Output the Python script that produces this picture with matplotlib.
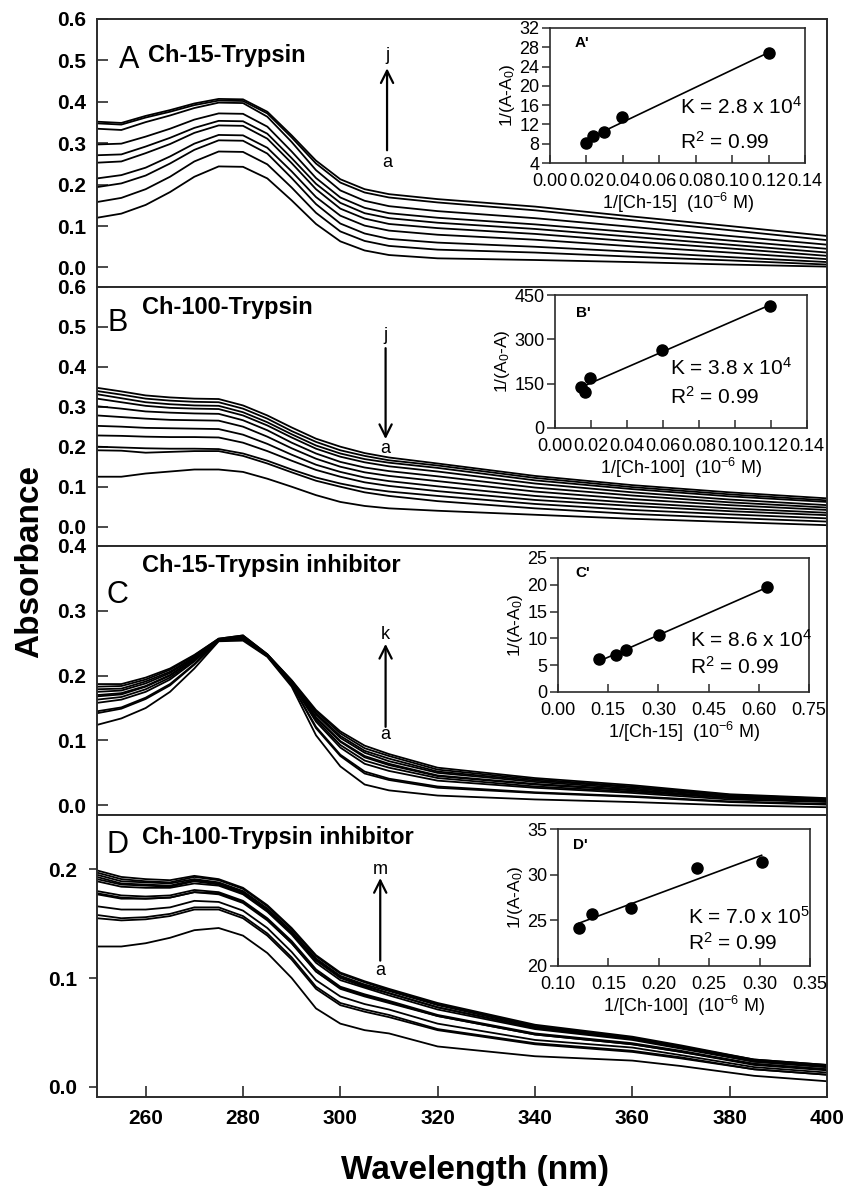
import numpy as np
import matplotlib
matplotlib.use("Agg")
import matplotlib.pyplot as plt
from matplotlib.ticker import FormatStrFormatter

plt.rcParams['font.family'] = ['Liberation Sans', 'DejaVu Sans']
plt.rcParams['mathtext.fontset'] = 'custom'
plt.rcParams['mathtext.rm'] = 'Liberation Sans'
plt.rcParams['mathtext.it'] = 'Liberation Sans:italic'
plt.rcParams['mathtext.bf'] = 'Liberation Sans:bold'

# ---------------- data ----------------
wl = [250, 255, 260, 265, 270, 275, 280, 285, 290, 295, 300, 305, 310, 320, 340, 360, 380, 400]
wl_D = [250, 255, 260, 265, 270, 275, 280, 285, 290, 295, 300, 305, 310, 320, 340, 360, 370, 385, 400]

# Panel A: Ch-15-Trypsin (a..j)
A_a = [.120, .130, .151, .182, .219, .244, .243, .215, .162, .105, .063, .041, .030, .022, .018, .013, .007, .002]
A_b = [.158, .168, .189, .219, .256, .280, .279, .249, .193, .132, .087, .064, .052, .043, .036, .026, .017, .007]
A_c = [.194, .203, .222, .251, .284, .307, .306, .275, .216, .153, .106, .082, .069, .060, .050, .038, .025, .013]
A_d = [.215, .223, .241, .268, .299, .320, .319, .289, .232, .170, .125, .101, .089, .079, .067, .051, .036, .020]
A_e = [.253, .256, .276, .298, .325, .343, .342, .311, .252, .189, .142, .118, .105, .095, .081, .063, .046, .028]
A_f = [.271, .273, .292, .313, .337, .354, .353, .323, .264, .202, .156, .131, .119, .108, .093, .074, .055, .036]
A_g = [.297, .299, .316, .335, .357, .372, .371, .340, .280, .216, .169, .144, .131, .120, .104, .085, .065, .045]
A_h = [.335, .332, .351, .367, .385, .398, .397, .364, .303, .235, .186, .161, .148, .136, .119, .098, .076, .055]
A_i = [.348, .345, .362, .376, .392, .403, .402, .372, .314, .251, .205, .181, .169, .157, .138, .114, .090, .066]
A_j = [.352, .349, .366, .380, .396, .407, .406, .376, .319, .258, .213, .189, .177, .165, .147, .123, .100, .076]

# Panel B: Ch-100-Trypsin
B_k = [.347, .338, .328, .323, .320, .319, .303, .278, .248, .220, .200, .184, .173, .158, .127, .104, .086, .071]
B_j = [.339, .330, .320, .315, .312, .311, .295, .270, .239, .212, .191, .177, .166, .153, .122, .099, .081, .066]
B_i = [.331, .321, .311, .306, .303, .302, .286, .261, .231, .203, .183, .169, .160, .147, .116, .094, .076, .062]
B_h = [.320, .311, .302, .297, .295, .294, .278, .253, .223, .195, .175, .161, .151, .138, .108, .086, .068, .054]
B_g = [.301, .295, .288, .285, .283, .282, .266, .241, .210, .183, .162, .148, .139, .126, .098, .078, .061, .048]
B_f = [.278, .274, .270, .267, .266, .265, .250, .225, .196, .170, .150, .136, .127, .114, .088, .069, .054, .042]
B_e = [.252, .250, .247, .246, .245, .244, .230, .207, .180, .155, .137, .123, .114, .101, .077, .060, .046, .035]
B_d = [.228, .227, .225, .224, .224, .223, .210, .189, .165, .142, .125, .111, .102, .089, .067, .052, .039, .029]
B_c = [.200, .198, .196, .195, .195, .194, .183, .165, .143, .123, .108, .096, .088, .077, .057, .042, .031, .021]
B_b = [.191, .190, .185, .187, .189, .189, .177, .158, .136, .115, .100, .086, .077, .064, .046, .032, .022, .013]
B_a = [.125, .125, .133, .138, .143, .143, .137, .120, .100, .079, .062, .052, .046, .040, .030, .020, .012, .004]

# Panel C: Ch-15-Trypsin inhibitor (a..k)
C_a = [.124, .134, .150, .175, .211, .253, .254, .229, .183, .108, .060, .032, .023, .015, .009, .005, .000, -.003]
C_b = [.142, .149, .164, .185, .217, .254, .256, .230, .186, .119, .076, .049, .039, .027, .019, .013, .005, .001]
C_c = [.145, .151, .166, .187, .218, .254, .257, .230, .186, .121, .078, .052, .041, .029, .020, .014, .006, .002]
C_d = [.158, .163, .175, .194, .222, .255, .258, .231, .188, .129, .089, .064, .053, .038, .027, .019, .009, .005]
C_e = [.163, .167, .179, .197, .224, .255, .259, .231, .189, .132, .093, .069, .058, .042, .029, .021, .011, .006]
C_f = [.168, .171, .183, .200, .226, .256, .260, .232, .190, .135, .098, .074, .062, .045, .032, .023, .012, .007]
C_g = [.170, .173, .184, .201, .226, .256, .260, .232, .190, .136, .099, .076, .064, .046, .033, .024, .012, .007]
C_h = [.175, .177, .188, .204, .228, .256, .260, .232, .191, .140, .104, .081, .068, .050, .036, .026, .014, .008]
C_i = [.179, .180, .191, .206, .229, .256, .261, .232, .192, .142, .107, .084, .072, .052, .038, .028, .015, .009]
C_j = [.183, .184, .194, .209, .231, .257, .262, .233, .192, .145, .111, .088, .076, .055, .040, .029, .016, .010]
C_k = [.187, .187, .197, .211, .232, .257, .262, .233, .193, .147, .114, .092, .079, .058, .042, .031, .017, .011]

# Panel D: Ch-100-Trypsin inhibitor (a..m)
D_a = [.129, .129, .132, .137, .144, .146, .139, .123, .100, .072, .058, .052, .049, .037, .028, .024, .019, .010, .005]
D_b = [.155, .153, .154, .157, .163, .163, .155, .139, .117, .090, .075, .069, .064, .052, .039, .032, .026, .016, .011]
D_c = [.158, .155, .156, .159, .165, .165, .157, .141, .119, .092, .077, .071, .066, .053, .040, .033, .027, .016, .011]
D_d = [.166, .163, .163, .165, .171, .170, .162, .146, .124, .098, .083, .076, .071, .058, .043, .036, .029, .018, .013]
D_e = [.177, .173, .173, .174, .179, .177, .169, .153, .132, .106, .090, .083, .077, .065, .048, .039, .032, .020, .015]
D_f = [.178, .174, .173, .174, .179, .178, .170, .154, .132, .106, .091, .084, .078, .065, .048, .039, .032, .021, .016]
D_g = [.180, .176, .175, .176, .181, .179, .171, .155, .134, .108, .092, .085, .079, .066, .049, .040, .033, .021, .016]
D_h = [.189, .184, .183, .183, .187, .185, .177, .161, .140, .114, .098, .091, .084, .071, .053, .043, .035, .023, .018]
D_i = [.191, .186, .185, .184, .189, .186, .178, .162, .141, .116, .100, .092, .086, .073, .054, .044, .036, .023, .018]
D_j = [.193, .187, .186, .185, .190, .187, .179, .163, .142, .117, .101, .093, .086, .073, .054, .044, .036, .024, .019]
D_k = [.195, .189, .188, .187, .191, .188, .180, .164, .143, .118, .102, .094, .088, .075, .055, .045, .037, .024, .019]
D_l = [.197, .191, .189, .188, .193, .190, .182, .166, .145, .120, .104, .096, .089, .076, .056, .045, .037, .025, .020]
D_m = [.199, .193, .191, .190, .194, .191, .183, .167, .146, .121, .105, .097, .090, .077, .057, .046, .038, .025, .020]

# Insets (Benesi-Hildebrand plots)
insA_x = [0.0198, 0.0238, 0.0298, 0.0397, 0.1204]
insA_y = [8.2, 9.6, 10.4, 13.5, 26.8]
insB_x = [0.0145, 0.0165, 0.0195, 0.0596, 0.1196]
insB_y = [140, 122, 168, 263, 414]
insC_x = [0.1225, 0.173, 0.202, 0.302, 0.625]
insC_y = [6.1, 6.9, 7.8, 10.6, 19.6]
insD_x = [0.121, 0.134, 0.172, 0.2375, 0.302]
insD_y = [24.2, 25.65, 26.3, 30.76, 31.4]

# ---------------- figure ----------------
W, H = 847, 1202
fig = plt.figure(figsize=(W / 100, H / 100), dpi=100)


def rect(x0, y0, x1, y1):
    return [x0 / W, 1 - y1 / H, (x1 - x0) / W, (y1 - y0) / H]


spine_c = '#2b2b2b'
axA = fig.add_axes(rect(97, 19, 827, 286.5))
axB = fig.add_axes(rect(97, 286.5, 827, 546))
axC = fig.add_axes(rect(97, 546, 827, 815))
axD = fig.add_axes(rect(97, 815, 827, 1097))

panels = [
    (axA, wl, [A_a, A_b, A_c, A_d, A_e, A_f, A_g, A_h, A_i, A_j], (-0.046, 0.6), np.arange(0, 0.61, 0.1)),
    (axB, wl, [B_a, B_b, B_c, B_d, B_e, B_f, B_g, B_h, B_i, B_j, B_k], (-0.048, 0.6), np.arange(0, 0.61, 0.1)),
    (axC, wl, [C_a, C_b, C_c, C_d, C_e, C_f, C_g, C_h, C_i, C_j, C_k], (-0.015, 0.4), np.arange(0, 0.41, 0.1)),
    (axD, wl_D, [D_a, D_b, D_c, D_d, D_e, D_f, D_g, D_h, D_i, D_j, D_k, D_l, D_m], (-0.0095, 0.25), np.arange(0, 0.21, 0.1)),
]

for ax, x, curves, yl, yt in panels:
    for c in curves:
        ax.plot(x, c, color='black', lw=1.3, solid_joinstyle='miter')
    ax.set_xlim(250, 400)
    ax.set_ylim(*yl)
    ax.set_yticks(yt)
    ax.yaxis.set_major_formatter(FormatStrFormatter('%.1f'))
    for s in ax.spines.values():
        s.set_color(spine_c)
        s.set_linewidth(1.4)
    ax.tick_params(axis='y', direction='in', length=8, width=1.2, pad=8, labelsize=15, color=spine_c)
    for lbl in ax.get_yticklabels():
        lbl.set_fontweight('bold')

for ax in (axA, axB, axC):
    ax.tick_params(axis='x', bottom=False, labelbottom=False)

axD.tick_params(axis='y', direction='out', length=6, pad=8)
axD.set_xticks([260, 280, 300, 320, 340, 360, 380, 400])
axD.tick_params(axis='x', direction='in', length=8, width=1.2, pad=9, labelsize=15, color=spine_c)
for lbl in axD.get_xticklabels():
    lbl.set_fontweight('bold')

# panel letters & titles
letter_kw = dict(fontsize=22, ha='center', va='center')
title_kw = dict(fontsize=17, fontweight='bold', ha='left', va='center')
axA.text(256.6, 0.50, 'A', **letter_kw)
axA.text(260.5, 0.513, 'Ch-15-Trypsin', **title_kw)
axB.text(254.3, 0.510, 'B', **letter_kw)
axB.text(259.2, 0.548, 'Ch-100-Trypsin', **title_kw)
axC.text(254.3, 0.324, 'C', **letter_kw)
axC.text(259.2, 0.370, 'Ch-15-Trypsin inhibitor', **title_kw)
axD.text(254.3, 0.222, 'D', **letter_kw)
axD.text(259.2, 0.229, 'Ch-100-Trypsin inhibitor', **title_kw)

# arrows
arr = dict(arrowstyle='->', lw=1.6, color='black', mutation_scale=22, shrinkA=0, shrinkB=0)
lab_kw = dict(fontsize=13, ha='center', va='center')
axA.annotate('', xy=(309.6, 0.481), xytext=(309.6, 0.283), arrowprops=arr)
axA.text(309.6, 0.512, 'j', **lab_kw)
axA.text(309.6, 0.254, 'a', **lab_kw)
axB.annotate('', xy=(309.3, 0.219), xytext=(309.3, 0.446), arrowprops=arr)
axB.text(309.3, 0.478, 'j', **lab_kw)
axB.text(309.3, 0.196, 'a', **lab_kw)
axC.annotate('', xy=(309.3, 0.249), xytext=(309.3, 0.121), arrowprops=arr)
axC.text(309.3, 0.263, 'k', **lab_kw)
axC.text(309.3, 0.109, 'a', **lab_kw)
axD.annotate('', xy=(308.2, 0.192), xytext=(308.2, 0.116), arrowprops=arr)
axD.text(308.2, 0.200, 'm', **lab_kw)
axD.text(308.2, 0.107, 'a', **lab_kw)

fig.text(30 / W, 1 - 561 / H, 'Absorbance', rotation=90, fontsize=24, fontweight='bold', ha='center', va='center')
fig.text(475 / W, 1 - 1170 / H, 'Wavelength (nm)', fontsize=24, fontweight='bold', ha='center', va='center')

# ---------------- insets ----------------
insets = [
    (rect(550, 28, 805, 163), insA_x, insA_y, (0, 0.14), np.arange(0, 0.141, 0.02), '%.2f',
     (4, 32), np.arange(4, 33, 4), r'1/(A-A$_0$)', r'1/[Ch-15]  (10$^{-6}$ M)',
     "A'", (0.0176, 28.9), r'K = 2.8 x 10$^4$', (0.0714, 15.6), (0.0714, 8.4)),
    (rect(555, 295, 807, 428), insB_x, insB_y, (0, 0.14), np.arange(0, 0.141, 0.02), '%.2f',
     (0, 450), [0, 150, 300, 450], r'1/(A$_0$-A)', r'1/[Ch-100]  (10$^{-6}$ M)',
     "B'", (0.0156, 389), r'K = 3.8 x 10$^4$', (0.0639, 203), (0.0639, 105)),
    (rect(558, 558, 809, 692), insC_x, insC_y, (0, 0.75), np.arange(0, 0.76, 0.15), '%.2f',
     (0, 25), np.arange(0, 26, 5), r'1/(A-A$_0$)', r'1/[Ch-15]  (10$^{-6}$ M)',
     "C'", (0.0747, 22.2), r'K = 8.6 x 10$^4$', (0.394, 9.7), (0.394, 4.7)),
    (rect(558, 829, 810, 966), insD_x, insD_y, (0.10, 0.35), np.arange(0.10, 0.351, 0.05), '%.2f',
     (20, 35), np.arange(20, 36, 5), r'1/(A-A$_0$)', r'1/[Ch-100]  (10$^{-6}$ M)',
     "D'", (0.1218, 33.2), r'K = 7.0 x 10$^5$', (0.229, 25.4), (0.229, 22.5)),
]

for (r, xs, ys, xl, xt, xfmt, yl, yt, ylab, xlab, tag, tagpos, ktxt, kpos, rpos) in insets:
    ia = fig.add_axes(r)
    ia.set_facecolor('white')
    ia.plot(xs, ys, 'o', color='black', ms=8, zorder=3)
    p = np.polyfit(xs, ys, 1)
    xx = np.array([min(xs), max(xs)])
    ia.plot(xx, np.polyval(p, xx), color='black', lw=1.2)
    ia.set_xlim(*xl)
    ia.set_ylim(*yl)
    ia.set_xticks(xt)
    ia.xaxis.set_major_formatter(FormatStrFormatter(xfmt))
    ia.set_yticks(yt)
    for s in ia.spines.values():
        s.set_color(spine_c)
        s.set_linewidth(1.2)
    ia.tick_params(axis='x', direction='in', length=6, width=1.1, pad=7, labelsize=13, color=spine_c)
    ia.tick_params(axis='y', direction='out', length=6, width=1.1, pad=1.5, labelsize=13, color=spine_c)
    ia.set_ylabel(ylab, fontsize=12.5, labelpad=2)
    ia.set_xlabel(xlab, fontsize=13, labelpad=1)
    ia.text(tagpos[0], tagpos[1], tag, fontsize=11, fontweight='bold', ha='center', va='center')
    ia.text(kpos[0], kpos[1], ktxt, fontsize=15, ha='left', va='center')
    ia.text(rpos[0], rpos[1], r'R$^2$ = 0.99', fontsize=15, ha='left', va='center')

fig.savefig('out.png', dpi=100)
